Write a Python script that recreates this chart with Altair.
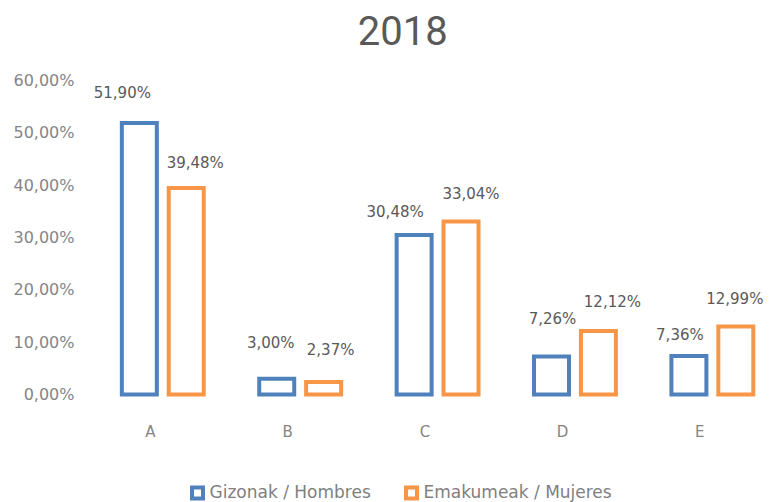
import altair as alt
import pandas as pd

categories = ["A", "B", "C", "D", "E"]
gizonak = [51.90, 3.00, 30.48, 7.26, 7.36]
emakumeak = [39.48, 2.37, 33.04, 12.12, 12.99]
series = ["Gizonak / Hombres", "Emakumeak / Mujeres"]
colors = ["#4F81BD", "#F79646"]
y_ticks = [0, 10, 20, 30, 40, 50, 60]

rows = []
for c, g, e in zip(categories, gizonak, emakumeak):
    rows.append({"cat": c, "serie": series[0], "value": g})
    rows.append({"cat": c, "serie": series[1], "value": e})
df = pd.DataFrame(rows)
df["label"] = df["value"].map(lambda v: f"{v:.2f}".replace(".", ",") + "%")

# label nudges (styling): (dx, dy) relative to bar centre / bar top
nudges = {
    ("A", 0): (-17, -30), ("A", 1): (9, -25),
    ("B", 0): (-6, -36), ("B", 1): (7, -32),
    ("C", 0): (-19, -23), ("C", 1): (10, -28),
    ("D", 0): (1, -38), ("D", 1): (14, -29),
    ("E", 0): (-9, -21), ("E", 1): (-1, -28),
}

x_enc = alt.X(
    "cat:N",
    sort=categories,
    scale=alt.Scale(paddingInner=0.404, paddingOuter=0.145, align=1),
    axis=alt.Axis(title=None, labelAngle=0, domain=False, ticks=False,
                  labelPadding=29.5, labelOffset=-12.5, labelFontSize=15,
                  labelFont="DejaVu Sans", labelColor="#858585"),
)
xo_enc = alt.XOffset("serie:N", sort=series,
                     scale=alt.Scale(domain=series, paddingInner=0.254, paddingOuter=0))
y_enc = alt.Y(
    "value:Q",
    scale=alt.Scale(domain=[0, 60], nice=False, zero=True),
    axis=alt.Axis(title=None, values=y_ticks, grid=False, domain=False, ticks=False,
                  labelPadding=8, labelFontSize=16, labelFont="DejaVu Sans",
                  labelColor="#858585",
                  labelExpr="replace(format(datum.value/100, '.2%'), '.', ',')"),
)

bars = alt.Chart(df).mark_bar(fill="white", strokeWidth=4, strokeJoin="miter").encode(
    x=x_enc,
    xOffset=xo_enc,
    y=y_enc,
    stroke=alt.Stroke(
        "serie:N",
        sort=series,
        scale=alt.Scale(domain=series, range=colors),
        legend=alt.Legend(title=None, orient="none", legendX=107, legendY=404,
                          direction="horizontal", symbolType="square",
                          symbolSize=121, symbolStrokeWidth=4,
                          symbolFillColor="white", labelFont="DejaVu Sans",
                          labelFontSize=17, labelColor="#808080", labelLimit=0,
                          columnPadding=27, labelOffset=3.5),
    ),
)

texts = []
for (c, si), (dx, dy) in nudges.items():
    s = series[si]
    t = alt.Chart(df).transform_filter(
        (alt.datum.cat == c) & (alt.datum.serie == s)
    ).mark_text(dx=dx, dy=dy, font="DejaVu Sans", fontSize=15,
                color="#595959", baseline="middle", align="center").encode(
        x=x_enc, xOffset=xo_enc, y=y_enc, text="label:N"
    )
    texts.append(t)

chart = alt.layer(bars, *texts).properties(
    width=671.3,
    height=314,
    padding={"left": 74, "top": 72.5, "right": 10.7, "bottom": 107.5},
    autosize=alt.AutoSizeParams(type="none"),
    title=alt.TitleParams("2018", font="Roboto", fontSize=40, fontWeight="normal",
                          color="#595959", anchor="middle", dx=-15, offset=20),
).configure_view(stroke=None)

chart.save("out.html", embed_options={"renderer": "svg", "actions": False})
